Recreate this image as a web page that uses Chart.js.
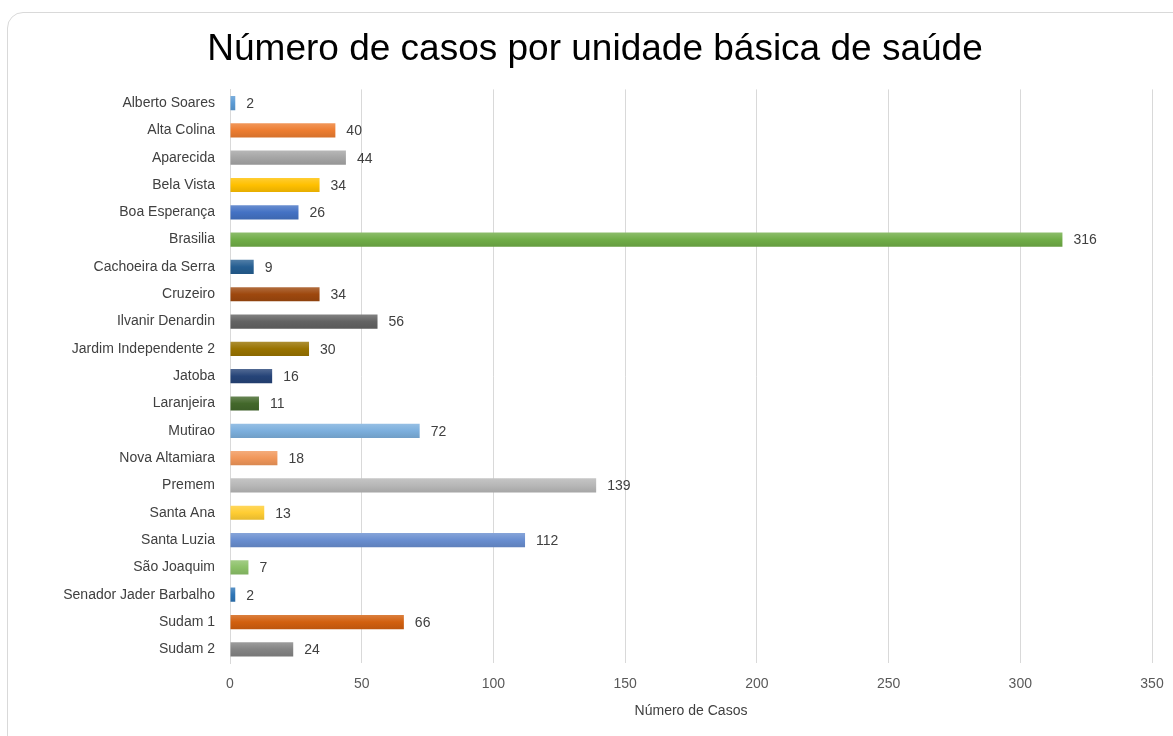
<!DOCTYPE html>
<html>
<head>
<meta charset="utf-8">
<script src="https://cdn.jsdelivr.net/npm/chart.js@4.4.0/dist/chart.umd.min.js"></script>
<style>
  html, body { margin: 0; padding: 0; background: #fff; overflow: hidden; }
  .card {
    position: absolute; left: 7px; top: 12px; width: 1190px; height: 760px;
    border: 1px solid #d9d9d9; border-radius: 16px; background: #fff;
  }
  #wrap { position: absolute; left: 0; top: 0; width: 1173px; height: 736px; }
</style>
</head>
<body>
<div class="card"></div>
<div id="wrap"><canvas id="chart"></canvas></div>
<script>
/* ── dados ── */
const unidades = [
    'Alberto Soares', 'Alta Colina', 'Aparecida', 'Bela Vista', 'Boa Esperança',
    'Brasilia', 'Cachoeira da Serra', 'Cruzeiro', 'Ilvanir Denardin', 'Jardim Independente 2',
    'Jatoba', 'Laranjeira', 'Mutirao', 'Nova Altamiara', 'Premem', 'Santa Ana',
    'Santa Luzia', 'São Joaquim', 'Senador Jader Barbalho', 'Sudam 1', 'Sudam 2',
];
const casos = [2, 40, 44, 34, 26, 316, 9, 34, 56, 30, 16, 11, 72, 18, 139, 13, 112, 7, 2, 66, 24];
const cores = [
    '#5b9bd5', '#ed7d31', '#a5a5a5', '#ffc000', '#4472c4', '#70ad47', '#255e91',
    '#9e480e', '#636363', '#997300', '#264478', '#43682b', '#7cafdd', '#f1975a',
    '#b7b7b7', '#ffcd33', '#698ed0', '#8cc168', '#2e75b6', '#d2600f', '#848484',
];
const xTicks = [0, 50, 100, 150, 200, 250, 300, 350];

const FONT = "'Liberation Sans', Arial, sans-serif";

function shade(hex, amt) {
    const n = parseInt(hex.slice(1), 16);
    const r = n >> 16, g = (n >> 8) & 255, b = n & 255;
    const f = c => Math.max(0, Math.min(255, Math.round(amt > 0 ? c + (255 - c) * amt : c * (1 + amt))));
    return `rgb(${f(r)},${f(g)},${f(b)})`;
}

// leve degradê vertical em cada barra, estilo Excel
const barGradient = {
    id: 'barGradient',
    beforeDatasetsDraw(chart) {
        const ctx = chart.ctx;
        chart.getDatasetMeta(0).data.forEach((bar, i) => {
            const h = bar.height / 2;
            const g = ctx.createLinearGradient(0, bar.y - h, 0, bar.y + h);
            g.addColorStop(0, shade(cores[i], 0.2));
            g.addColorStop(0.5, cores[i]);
            g.addColorStop(1, shade(cores[i], -0.1));
            bar.options.backgroundColor = g;
        });
    },
};

// rótulos de valor à direita de cada barra
const valueLabels = {
    id: 'valueLabels',
    afterDatasetsDraw(chart) {
        const { ctx } = chart;
        ctx.save();
        ctx.font = '14px ' + FONT;
        ctx.fillStyle = '#404040';
        ctx.textBaseline = 'middle';
        ctx.textAlign = 'left';
        chart.getDatasetMeta(0).data.forEach((bar, i) => {
            ctx.fillText(String(casos[i]), bar.x + 11, bar.y + 1);
        });
        ctx.restore();
    },
};

new Chart(document.getElementById('chart'), {
    type: 'bar',
    data: {
        labels: unidades,
        datasets: [{
            data: casos,
            backgroundColor: ctx => cores[ctx.dataIndex],
            borderWidth: 0,
            barPercentage: 0.52,
            categoryPercentage: 1,
        }],
    },
    options: {
        indexAxis: 'y',
        responsive: true,
        maintainAspectRatio: false,
        animation: false,
        layout: { padding: { left: 38, right: 21, top: 0, bottom: 0 } },
        scales: {
            x: {
                min: 0,
                max: 350,
                afterBuildTicks: s => { s.ticks = xTicks.map(v => ({ value: v })); },
                afterFit: s => { s.height = 73; s.paddingLeft = 0; s.paddingRight = 0; },
                grid: { color: '#d9d9d9', lineWidth: 1, drawTicks: false },
                border: { display: false },
                ticks: {
                    padding: 13,
                    color: '#595959',
                    font: { family: FONT, size: 14 },
                },
                title: {
                    display: true,
                    text: 'Número de Casos',
                    color: '#404040',
                    font: { family: FONT, size: 14 },
                    padding: { top: 0, bottom: 16 },
                },
            },
            y: {
                afterFit: s => { s.width = 192; },
                grid: { display: false, drawTicks: false },
                border: { display: true, color: '#d9d9d9', width: 1 },
                ticks: {
                    padding: 15,
                    color: '#404040',
                    font: { family: FONT, size: 14 },
                    autoSkip: false,
                },
            },
        },
        plugins: {
            legend: { display: false },
            tooltip: { enabled: false },
            title: {
                display: true,
                text: 'Número de casos por unidade básica de saúde',
                color: '#000',
                font: { family: FONT, size: 37, weight: 'normal', lineHeight: 1.2 },
                padding: { top: 28, bottom: 17 },
            },
        },
    },
    plugins: [barGradient, valueLabels],
});
</script>
</body>
</html>
